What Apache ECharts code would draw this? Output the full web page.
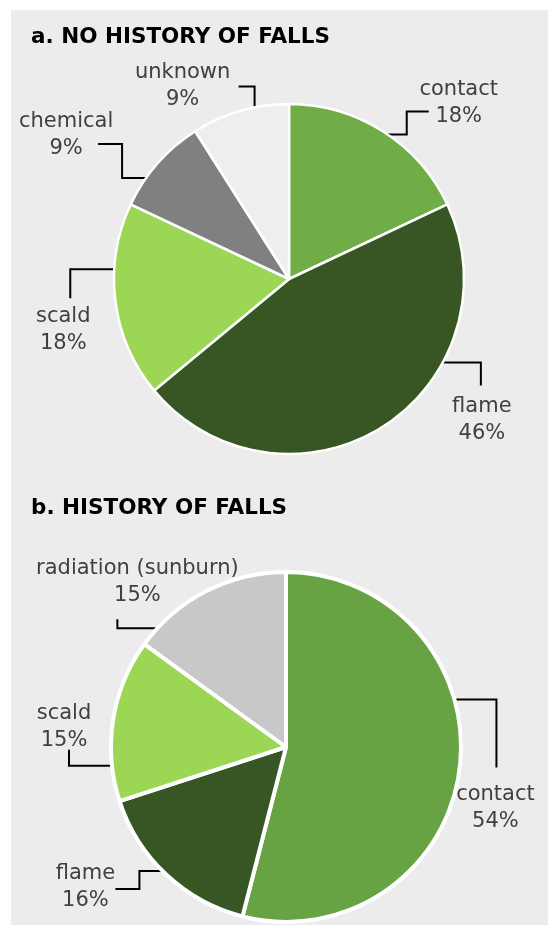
<!DOCTYPE html>
<html>
<head>
<meta charset="utf-8">
<script src="https://cdn.jsdelivr.net/npm/echarts@6/dist/echarts.min.js"></script>
<style>
  html, body { margin: 0; padding: 0; background: #ffffff; }
  #wrap { position: relative; width: 550px; height: 927px; background: #ffffff; }
  #chart { position: absolute; left: 11px; top: 10px; width: 537px; height: 915px; background: #ececec; }
</style>
</head>
<body>
<div id="wrap"><div id="chart"></div></div>
<script>
// panel a: no history of falls
var namesA = ["contact", "flame", "scald", "chemical", "unknown"];
var valuesA = [18, 46, 18, 9, 9];
var colorsA = ["#70ad47", "#375623", "#9bd755", "#808080", "#eeeeee"];

// panel b: history of falls
var namesB = ["contact", "flame", "scald", "radiation (sunburn)"];
var valuesB = [54, 16, 15, 15];
var colorsB = ["#67a342", "#375623", "#9bd755", "#c8c8c8"];

// leader line look (excel style elbows): where on the slice arc the line starts (0..1),
// the elbow path relative to that point, and the label centre relative to it
var leaders = [
  [
    { at: 0.53, pts: [[0, 0], [19, 0], [19, -23], [41, -23]], lbl: [71, -31] },
    { at: 0.324, pts: [[0, 0], [38, 0], [38, 23]], lbl: [39, 58] },
    { at: 0.66, pts: [[0, 0], [-44, 0], [-44, 29]], lbl: [-51, 61] },
    { at: 0.31, pts: [[0, 0], [-24, 0], [-24, -34], [-48, -34]], lbl: [-80, -43] },
    { at: 0.65, pts: [[0, 0], [0, -21], [-16, -21]], lbl: [-72, -21] }
  ],
  [
    { at: 0.382, pts: [[0, 0], [42, 0], [42, 68]], lbl: [41, 109] },
    { at: 0.53, pts: [[0, 0], [-23, 0], [-23, 18], [-47, 18]], lbl: [-77, 16] },
    { at: 0.22, pts: [[0, 0], [-43, 0], [-43, -16]], lbl: [-48, -39] },
    { at: 0.124, pts: [[0, 0], [-40, 0], [-40, -9]], lbl: [-20, -46] }
  ]
];

var myChart = echarts.init(document.getElementById("chart"));

function toData(names, values, colors) {
  return names.map(function (n, i) {
    return { name: n, value: values[i], itemStyle: { color: colors[i] } };
  });
}

function placeLabel(params) {
  var spec = leaders[params.seriesIndex][params.dataIndex];
  var lay = myChart.getModel().getSeriesByIndex(params.seriesIndex)
    .getData().getItemLayout(params.dataIndex);
  var ang = lay.startAngle + spec.at * (lay.endAngle - lay.startAngle);
  var sx = lay.cx + lay.r * Math.cos(ang);
  var sy = lay.cy + lay.r * Math.sin(ang);
  return {
    x: sx + spec.lbl[0],
    y: sy + spec.lbl[1],
    align: "center",
    verticalAlign: "middle",
    labelLinePoints: spec.pts.map(function (p) { return [sx + p[0], sy + p[1]]; })
  };
}

var labelStyle = {
  show: true,
  position: "outside",
  color: "#404040",
  fontFamily: "DejaVu Sans",
  fontSize: 21,
  lineHeight: 27,
  formatter: function (p) { return p.name + "\n" + Math.round(p.percent) + "%"; }
};

var titleFont = { fontFamily: "DejaVu Sans", fontWeight: "bold", fontSize: 21.5, color: "#000000" };

var option = {
  animation: false,
  title: [
    { text: "a. NO HISTORY OF FALLS", left: 15, top: 11, textStyle: titleFont },
    { text: "b. HISTORY OF FALLS", left: 15, top: 482, textStyle: titleFont }
  ],
  series: [
    {
      type: "pie",
      center: [278, 269],
      radius: 175,
      startAngle: 90,
      clockwise: true,
      avoidLabelOverlap: false,
      itemStyle: { borderColor: "#ffffff", borderWidth: 2.5 },
      label: labelStyle,
      labelLine: { show: true, length: 10, length2: 10, smooth: false, lineStyle: { color: "#000000", width: 2 } },
      labelLayout: placeLabel,
      emphasis: { disabled: true },
      data: toData(namesA, valuesA, colorsA)
    },
    {
      type: "pie",
      center: [275, 737],
      radius: 175,
      startAngle: 90,
      clockwise: true,
      avoidLabelOverlap: false,
      itemStyle: { borderColor: "#ffffff", borderWidth: 4 },
      label: labelStyle,
      labelLine: { show: true, length: 10, length2: 10, smooth: false, lineStyle: { color: "#000000", width: 2 } },
      labelLayout: placeLabel,
      emphasis: { disabled: true },
      data: toData(namesB, valuesB, colorsB)
    }
  ]
};

myChart.setOption(option);
</script>
</body>
</html>
